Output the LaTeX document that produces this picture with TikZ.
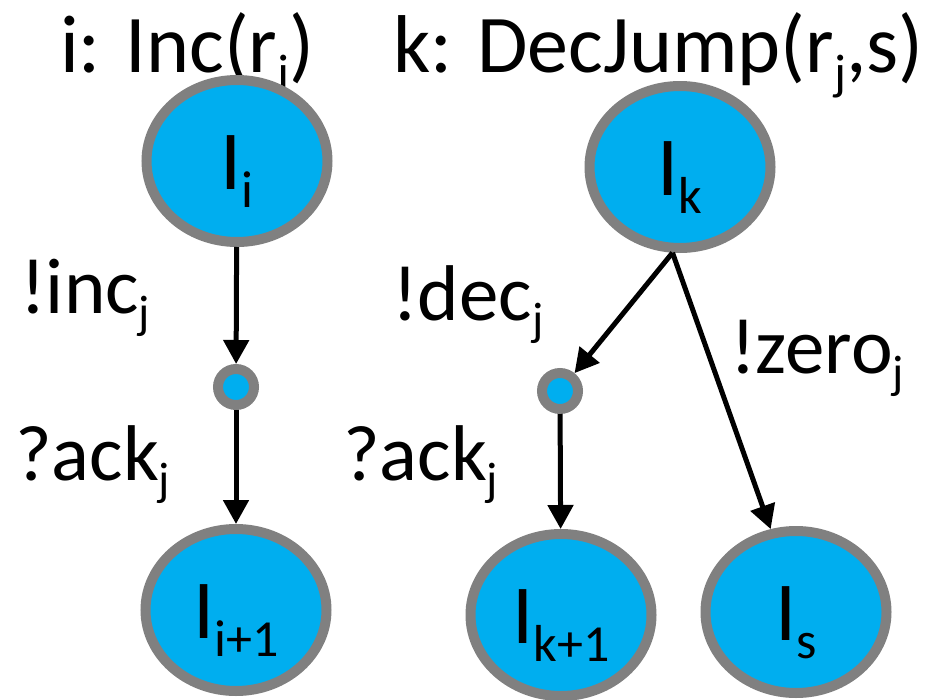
\documentclass[tikz,border=0pt]{standalone}
\usepackage{fontspec}
\setmainfont{Carlito}
\usetikzlibrary{arrows.meta,shapes.geometric}
\definecolor{nodeblue}{RGB}{0,174,239}
\definecolor{ringgray}{RGB}{128,128,128}
\newcommand\lsub[1]{\raisebox{-15pt}{\fontsize{47}{47}\selectfont #1}}
\newcommand\tsub[1]{\raisebox{-17pt}{\fontsize{50}{50}\selectfont #1}}
\newcommand\nsub[1]{\raisebox{-18pt}{\fontsize{52}{52}\selectfont #1}}
\begin{document}
\begin{tikzpicture}[x=1pt,y=-1pt,
  state/.style={ellipse, draw=ringgray, fill=nodeblue, line width=10pt,
    minimum width=181pt, minimum height=162pt, inner sep=0pt,
    text height=56pt, text depth=0pt, font=\fontsize{84}{84}\selectfont},
  via/.style={circle, draw=ringgray, fill=nodeblue, line width=10pt,
    minimum size=36pt, inner sep=0pt},
  lbl/.style={anchor=base west, inner sep=0pt, font=\fontsize{79}{79}\selectfont},
  ttl/.style={anchor=base west, inner sep=0pt, font=\fontsize{82}{82}\selectfont},
  edge/.style={line width=5pt, -{Triangle[length=24pt,width=25pt]}}
]
\path[use as bounding box] (0,0) rectangle (940,699);

% titles
\node[ttl] (t1) at (60,72) {i: Inc(r\tsub{j})};
\node[ttl] (t2) at (393,72) {k: DecJump(r\tsub{j},s)};

% states
\node[state] (Ii)  at (237,161) {I\nsub{i}};
\node[state] (Ii1) at (236,610) {I\nsub{i+1}};
\node[state] (Ik)  at (680,167) {I\nsub{k}};
\node[state] (Ik1) at (561,615) {I\nsub{k+1}};
\node[state] (Is)  at (796,612) {I\nsub{s}};

% intermediate points
\node[via] (c1) at (236,387) {};
\node[via] (c2) at (560,391) {};

% edges
\draw[edge] (Ii) -- (c1);
\draw[edge] (c1) -- (Ii1);
\draw[edge] (Ik.265) -- (c2);
\draw[edge] (Ik.265) -- (Is.107);
\draw[edge] (c2) -- (Ik1);

% labels
\node[lbl] (l1) at (20,313) {!inc\lsub{j}};
\node[lbl] (l2) at (15,480) {?ack\lsub{j}};
\node[lbl] (l3) at (392,320) {!dec\lsub{j}};
\node[lbl] (l4) at (343,480) {?ack\lsub{j}};
\node[lbl] (l5) at (730,373) {!zero\lsub{j}};
\end{tikzpicture}
\end{document}
